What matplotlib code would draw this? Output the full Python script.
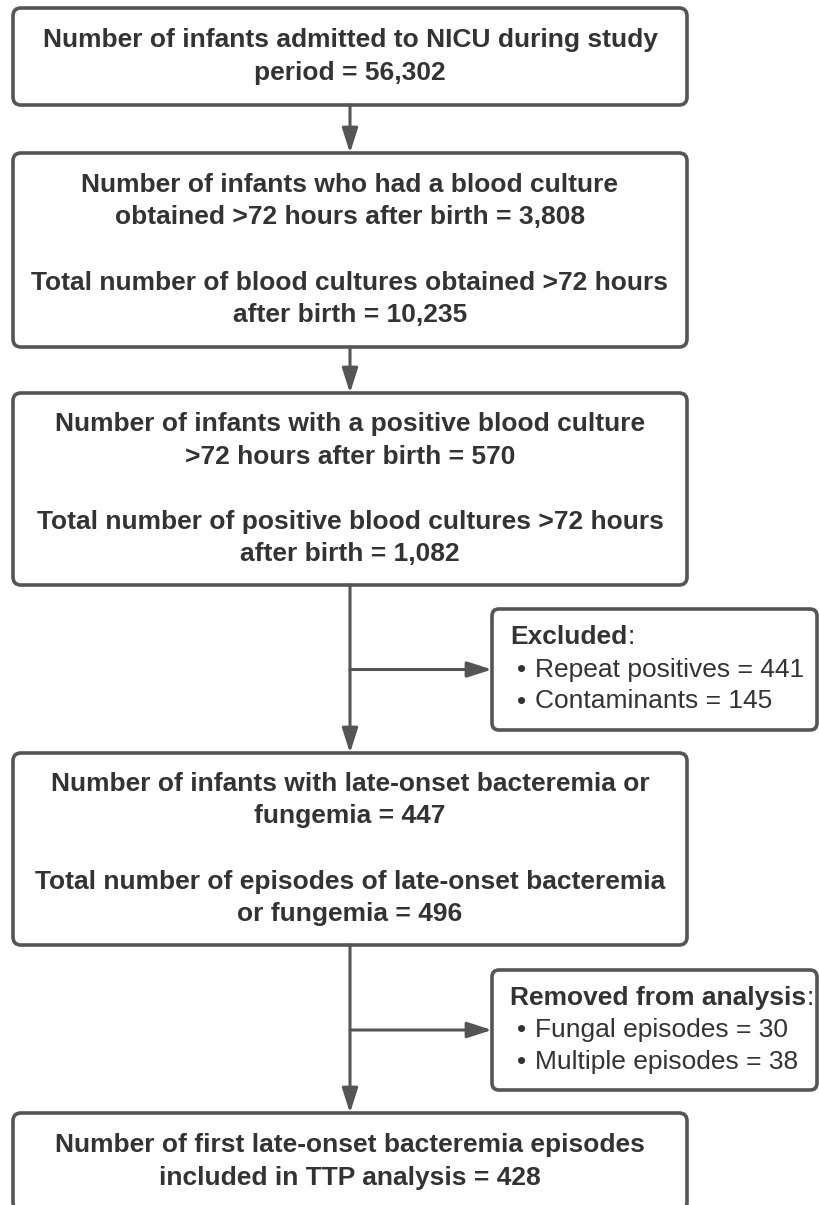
import matplotlib.pyplot as plt
from matplotlib.patches import FancyBboxPatch

plt.rcParams['font.family'] = ['Liberation Sans', 'DejaVu Sans']

# main boxes: text lines ('' = blank line between paragraphs)
main_texts = [
    ['Number of infants admitted to NICU during study', 'period = 56,302'],
    ['Number of infants who had a blood culture', 'obtained >72 hours after birth = 3,808', '',
     'Total number of blood cultures obtained >72 hours', 'after birth = 10,235'],
    ['Number of infants with a positive blood culture', '>72 hours after birth = 570', '',
     'Total number of positive blood cultures >72 hours', 'after birth = 1,082'],
    ['Number of infants with late-onset bacteremia or', 'fungemia = 447', '',
     'Total number of episodes of late-onset bacteremia', 'or fungemia = 496'],
    ['Number of first late-onset bacteremia episodes', 'included in TTP analysis = 428'],
]
# box extents in pixels (top, bottom)
main_y = [(8, 105), (153, 347), (393, 585), (753, 945), (1113, 1210)]

side_titles = ['Excluded', 'Removed from analysis']
side_items = [['Repeat positives = 441', 'Contaminants = 145'],
              ['Fungal episodes = 30', 'Multiple episodes = 38']]
side_y = [(609, 730), (970, 1090)]

W, H = 820, 1205
fig = plt.figure(figsize=(W / 100, H / 100), dpi=100)
ax = fig.add_axes([0, 0, 1, 1])
ax.set_xlim(0, W)
ax.set_ylim(H, 0)
ax.axis('off')

edge = '#555555'
tcol = '#333333'
x0, x1 = 13, 687
xc = 350
lw = 2.6
arrow = dict(arrowstyle='-|>,head_length=1.5,head_width=0.48',
             color=edge, lw=2.2, shrinkA=0, shrinkB=0)

for lines, (yt, yb) in zip(main_texts, main_y):
    ax.add_patch(FancyBboxPatch((x0, yt), x1 - x0, yb - yt,
                                boxstyle='round,pad=0,rounding_size=8',
                                fc='white', ec=edge, lw=lw))
    n = len(lines)
    y = (yt + yb) / 2 - (n - 1) * 32.5 / 2
    for ln in lines:
        if ln:
            ax.text(xc, y, ln, ha='center', va='center', fontsize=19,
                    fontweight='bold', color=tcol)
        y += 32.5

# arrows between main boxes
for i in range(len(main_y) - 1):
    ax.annotate('', xy=(xc, main_y[i + 1][0]), xytext=(xc, main_y[i][1]),
                arrowprops=arrow)

# side boxes
sx0, sx1 = 492, 817
fig.canvas.draw()
inv = ax.transData.inverted()
for title, items, (yt, yb) in zip(side_titles, side_items, side_y):
    ym = (yt + yb) / 2
    ax.add_patch(FancyBboxPatch((sx0, yt), sx1 - sx0, yb - yt,
                                boxstyle='round,pad=0,rounding_size=7',
                                fc='white', ec=edge, lw=lw))
    t = ax.text(510, ym - 32, title, ha='left', va='center', fontsize=19,
                fontweight='bold', color=tcol)
    bb = t.get_window_extent(renderer=fig.canvas.get_renderer())
    xe = inv.transform((bb.x1, bb.y0))[0]
    ax.text(xe, ym - 32, ':', ha='left', va='center', fontsize=19, color=tcol)
    for k, it in enumerate(items):
        ax.text(517, ym + k * 32, '\u2022', ha='left', va='center',
                fontsize=19, color=tcol)
        ax.text(535, ym + k * 32, it, ha='left', va='center',
                fontsize=19, color=tcol)
    ax.annotate('', xy=(sx0, ym), xytext=(xc, ym), arrowprops=arrow)

fig.savefig('out.png', dpi=100, facecolor='white')
